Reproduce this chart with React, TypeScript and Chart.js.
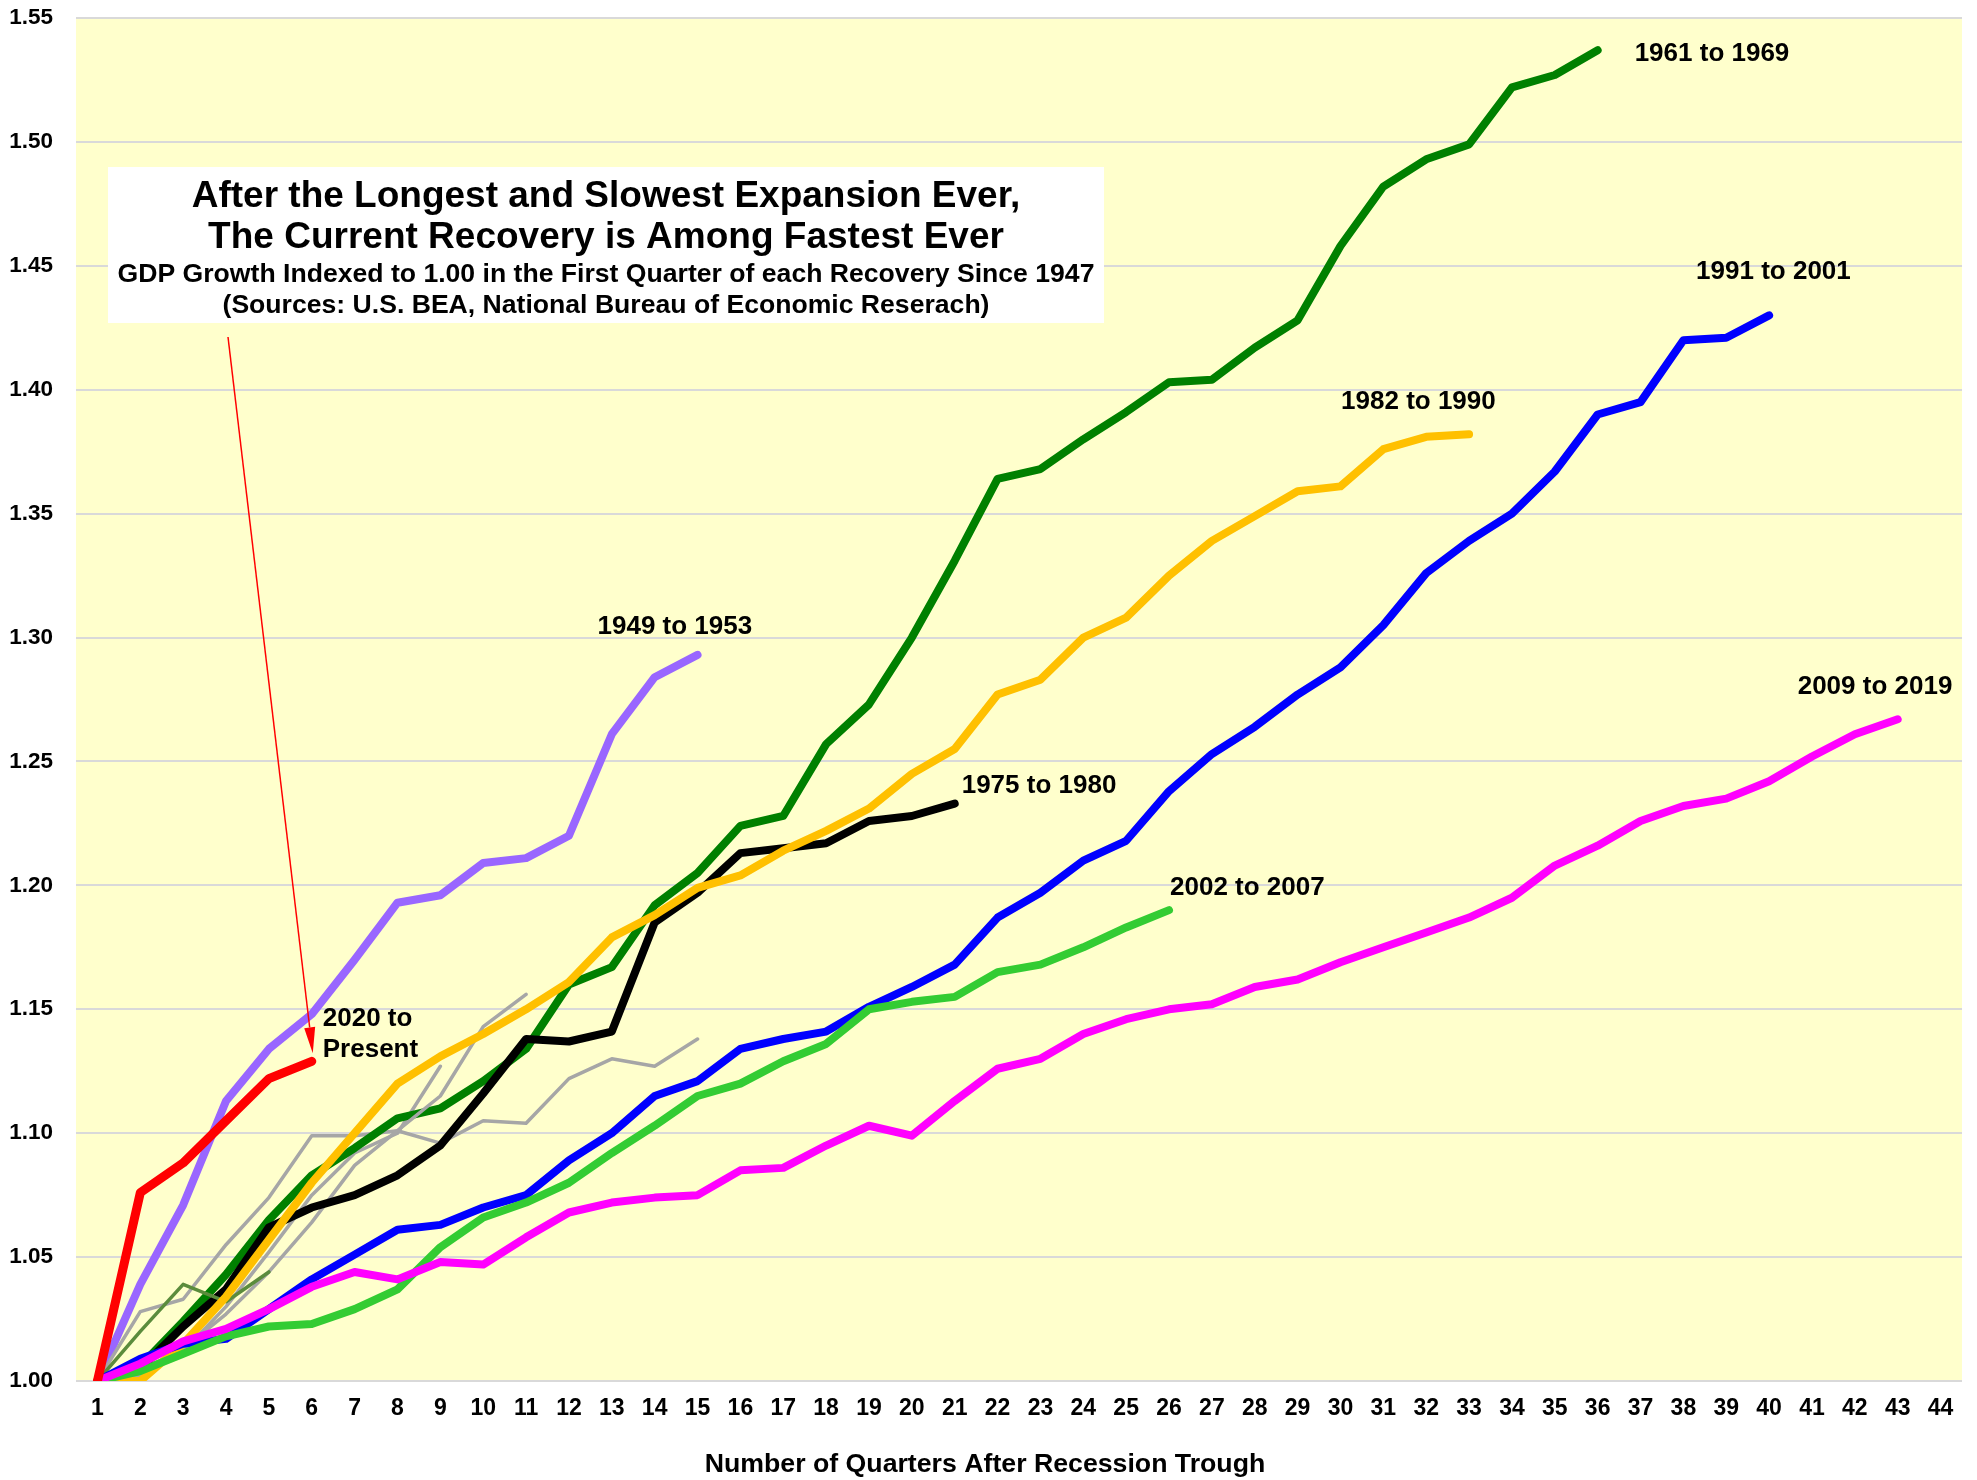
import React, { useEffect, useRef } from "react";
import { Chart, registerables } from "chart.js";

Chart.register(...registerables);

// ---------- data ----------
const quarters = [
  "1", "2", "3", "4", "5", "6", "7", "8", "9", "10", "11", "12", "13", "14", "15",
  "16", "17", "18", "19", "20", "21", "22", "23", "24", "25", "26", "27", "28", "29", "30",
  "31", "32", "33", "34", "35", "36", "37", "38", "39", "40", "41", "42", "43", "44",
];

const yMin = 1.0;
const yMax = 1.55;
const yStep = 0.05;

const rec2020 = [1.0, 1.076, 1.088, 1.105, 1.122, 1.129];
const rec2009 = [
  1.0, 1.007, 1.016, 1.021, 1.029, 1.038, 1.044, 1.041, 1.048, 1.047,
  1.058, 1.068, 1.072, 1.074, 1.075, 1.085, 1.086, 1.095, 1.103, 1.099,
  1.113, 1.126, 1.13, 1.14, 1.146, 1.15, 1.152, 1.159, 1.162, 1.169,
  1.175, 1.181, 1.187, 1.195, 1.208, 1.216, 1.226, 1.232, 1.235, 1.242,
  1.252, 1.261, 1.267,
];
const rec2002 = [
  1.0, 1.004, 1.011, 1.018, 1.022, 1.023, 1.029, 1.037, 1.054, 1.066,
  1.072, 1.08, 1.092, 1.103, 1.115, 1.12, 1.129, 1.136, 1.15, 1.153,
  1.155, 1.165, 1.168, 1.175, 1.183, 1.19,
];
const rec1991 = [
  1.0, 1.009, 1.015, 1.017, 1.029, 1.041, 1.051, 1.061, 1.063, 1.07,
  1.075, 1.089, 1.1, 1.115, 1.121, 1.134, 1.138, 1.141, 1.151, 1.159,
  1.168, 1.187, 1.197, 1.21, 1.218, 1.238, 1.253, 1.264, 1.277, 1.288,
  1.305, 1.326, 1.339, 1.35, 1.367, 1.39, 1.395, 1.42, 1.421, 1.43,
];
const rec1982 = [
  1.0, 1.0, 1.015, 1.034, 1.057, 1.08, 1.1, 1.12, 1.131, 1.14,
  1.15, 1.161, 1.179, 1.188, 1.199, 1.204, 1.214, 1.222, 1.231, 1.245,
  1.255, 1.277, 1.283, 1.3, 1.308, 1.325, 1.339, 1.349, 1.359, 1.361,
  1.376, 1.381, 1.382,
];
const rec1980 = [1.0, 1.02, 1.039, 1.032, 1.044];
const rec1975 = [
  1.0, 1.005, 1.022, 1.037, 1.062, 1.07, 1.075, 1.083, 1.095, 1.116,
  1.138, 1.137, 1.141, 1.185, 1.197, 1.213, 1.215, 1.217, 1.226, 1.228,
  1.233,
];
const rec1970 = [1.0, 1.002, 1.013, 1.027, 1.044, 1.064, 1.087, 1.101, 1.115, 1.143, 1.156];
const rec1961 = [
  1.0, 1.006, 1.024, 1.043, 1.065, 1.083, 1.094, 1.106, 1.11, 1.121,
  1.134, 1.16, 1.167, 1.192, 1.205, 1.224, 1.228, 1.257, 1.273, 1.3,
  1.331, 1.364, 1.368, 1.38, 1.391, 1.403, 1.404, 1.417, 1.428, 1.458,
  1.482, 1.493, 1.499, 1.522, 1.527, 1.537,
];
const rec1958 = [1.0, 1.005, 1.012, 1.03, 1.052, 1.075, 1.092, 1.1, 1.127];
const rec1954 = [
  1.0, 1.028, 1.033, 1.055, 1.074, 1.099, 1.099, 1.101, 1.096, 1.105,
  1.104, 1.122, 1.13, 1.127, 1.138,
];
const rec1949 = [
  1.0, 1.039, 1.071, 1.113, 1.134, 1.148, 1.17, 1.193, 1.196, 1.209,
  1.211, 1.22, 1.261, 1.284, 1.293,
];

// ---------- styling ----------
const FONT = '"Liberation Sans", Arial, Helvetica, sans-serif';

type SeriesDef = { label: string; data: number[]; color: string; width: number };

// first entry is drawn on top
const seriesDefs: SeriesDef[] = [
  { label: "2020 to Present", data: rec2020, color: "#ff0000", width: 9 },
  { label: "2009 to 2019", data: rec2009, color: "#ff00ff", width: 8 },
  { label: "2002 to 2007", data: rec2002, color: "#33cc33", width: 8 },
  { label: "1991 to 2001", data: rec1991, color: "#0000ff", width: 8 },
  { label: "1982 to 1990", data: rec1982, color: "#ffc000", width: 8 },
  { label: "1980 to 1981", data: rec1980, color: "#5b8c3c", width: 3.5 },
  { label: "1975 to 1980", data: rec1975, color: "#000000", width: 8 },
  { label: "1970 to 1973", data: rec1970, color: "#a6a6a6", width: 3.5 },
  { label: "1961 to 1969", data: rec1961, color: "#008000", width: 8 },
  { label: "1958 to 1960", data: rec1958, color: "#a6a6a6", width: 3.5 },
  { label: "1954 to 1957", data: rec1954, color: "#a6a6a6", width: 3.5 },
  { label: "1949 to 1953", data: rec1949, color: "#9966ff", width: 8 },
];

// end-of-line labels (offsets relative to the series' last point)
const endLabels = [
  { series: "1961 to 1969", lines: ["1961 to 1969"], dx: 37, dy: 4 },
  { series: "1991 to 2001", lines: ["1991 to 2001"], dx: -73, dy: -44 },
  { series: "1982 to 1990", lines: ["1982 to 1990"], dx: -128, dy: -33 },
  { series: "2009 to 2019", lines: ["2009 to 2019"], dx: -100, dy: -32 },
  { series: "1949 to 1953", lines: ["1949 to 1953"], dx: -100, dy: -28 },
  { series: "1975 to 1980", lines: ["1975 to 1980"], dx: 7, dy: -18 },
  { series: "2002 to 2007", lines: ["2002 to 2007"], dx: 1, dy: -22 },
  { series: "2020 to Present", lines: ["2020 to", "Present"], dx: 11, dy: -42 },
];

const titleLines = [
  { text: "After the Longest and Slowest Expansion Ever,", size: 37, base: 40 },
  { text: "The Current Recovery is Among Fastest Ever", size: 37, base: 81 },
  { text: "GDP Growth Indexed to 1.00 in the First Quarter of each Recovery Since 1947", size: 26.6, base: 115 },
  { text: "(Sources: U.S. BEA, National Bureau of Economic Reserach)", size: 26.6, base: 146 },
];

const xAxisTitle = "Number of Quarters After Recession Trough";

const decorPlugin = {
  id: "decor",
  beforeDraw(chart: any) {
    const { ctx, chartArea: a, width, height } = chart;
    ctx.save();
    ctx.fillStyle = "#ffffff";
    ctx.fillRect(0, 0, width, height);
    ctx.fillStyle = "#ffffcc";
    ctx.fillRect(a.left, a.top, a.right - a.left, a.bottom - a.top);
    ctx.restore();
  },
  afterDatasetsDraw(chart: any) {
    const { ctx, chartArea: a } = chart;
    const lastPoint = (label: string) => {
      const idx = chart.data.datasets.findIndex((d: any) => d.label === label);
      const meta = chart.getDatasetMeta(idx);
      const el = meta.data[meta.data.length - 1];
      return { x: el.x, y: el.y };
    };
    ctx.save();
    // end labels
    ctx.fillStyle = "#000";
    ctx.textAlign = "left";
    ctx.textBaseline = "middle";
    ctx.font = `bold 26px ${FONT}`;
    endLabels.forEach((l) => {
      const p = lastPoint(l.series);
      l.lines.forEach((t, i) => ctx.fillText(t, p.x + l.dx, p.y + l.dy + i * 31));
    });

    // title box
    const box = { left: a.left + 32, top: a.top + 149, w: 996, h: 156 };
    ctx.fillStyle = "#ffffff";
    ctx.fillRect(box.left, box.top, box.w, box.h);
    ctx.fillStyle = "#000";
    ctx.textAlign = "center";
    ctx.textBaseline = "alphabetic";
    titleLines.forEach((t) => {
      ctx.font = `bold ${t.size}px ${FONT}`;
      ctx.fillText(t.text, box.left + box.w / 2, box.top + t.base);
    });

    // arrow to the current recovery
    const tipBase = lastPoint("2020 to Present");
    const tip = { x: tipBase.x + 1, y: tipBase.y - 8 };
    const start = { x: box.left + 120, y: box.top + box.h + 14 };
    const ang = Math.atan2(tip.y - start.y, tip.x - start.x);
    const headLen = 26;
    const headHalf = 5.5;
    const bx = tip.x - headLen * Math.cos(ang);
    const by = tip.y - headLen * Math.sin(ang);
    ctx.strokeStyle = "#ff0000";
    ctx.lineWidth = 1.5;
    ctx.beginPath();
    ctx.moveTo(start.x, start.y);
    ctx.lineTo(bx, by);
    ctx.stroke();
    ctx.fillStyle = "#ff0000";
    ctx.beginPath();
    ctx.moveTo(tip.x, tip.y);
    ctx.lineTo(bx + headHalf * Math.sin(ang), by - headHalf * Math.cos(ang));
    ctx.lineTo(bx - headHalf * Math.sin(ang), by + headHalf * Math.cos(ang));
    ctx.closePath();
    ctx.fill();

    // x axis title
    ctx.fillStyle = "#000";
    ctx.textAlign = "center";
    ctx.textBaseline = "middle";
    ctx.font = `bold 26.7px ${FONT}`;
    ctx.fillText(xAxisTitle, (a.left + a.right) / 2 - 34, a.bottom + 84);
    ctx.restore();
  },
};

export default function App() {
  const canvasRef = useRef<HTMLCanvasElement | null>(null);

  useEffect(() => {
    if (!canvasRef.current) return;
    const chart = new Chart(canvasRef.current, {
      type: "line",
      data: {
        labels: quarters,
        datasets: seriesDefs.map((s) => ({
          label: s.label,
          data: s.data,
          borderColor: s.color,
          backgroundColor: s.color,
          borderWidth: s.width,
          pointRadius: 0,
          pointHoverRadius: 0,
          tension: 0,
          fill: false,
          borderCapStyle: "round" as const,
          borderJoinStyle: "round" as const,
        })),
      },
      options: {
        responsive: false,
        animation: false,
        events: [],
        layout: { padding: { top: 18, left: 0, right: 15, bottom: 0 } },
        plugins: {
          legend: { display: false },
          tooltip: { enabled: false },
          title: { display: false },
        },
        scales: {
          x: {
            type: "category",
            offset: true,
            grid: { display: false },
            border: { display: false },
            ticks: {
              autoSkip: false,
              maxRotation: 0,
              padding: 6,
              color: "#000",
              font: { family: FONT, size: 23, weight: "bold" },
            },
            afterFit: (s: any) => {
              s.height = 99;
              s.paddingLeft = 0;
              s.paddingRight = 0;
            },
          },
          y: {
            min: yMin,
            max: yMax,
            ticks: {
              stepSize: yStep,
              padding: 23,
              color: "#000",
              font: { family: FONT, size: 22.5, weight: "bold" },
              callback: (v: any) => Number(v).toFixed(2),
            },
            grid: { color: "#d9d9d9", lineWidth: 2, drawTicks: false },
            border: { display: false },
            afterFit: (s: any) => {
              s.width = 76;
              s.paddingTop = 0;
              s.paddingBottom = 0;
            },
          },
        },
      },
      plugins: [decorPlugin],
    });
    return () => chart.destroy();
  }, []);

  return (
    <div style={{ position: "fixed", left: 0, top: 0, width: 1977, height: 1480, background: "#fff" }}>
      <canvas ref={canvasRef} width={1977} height={1480} style={{ display: "block" }} />
    </div>
  );
}
